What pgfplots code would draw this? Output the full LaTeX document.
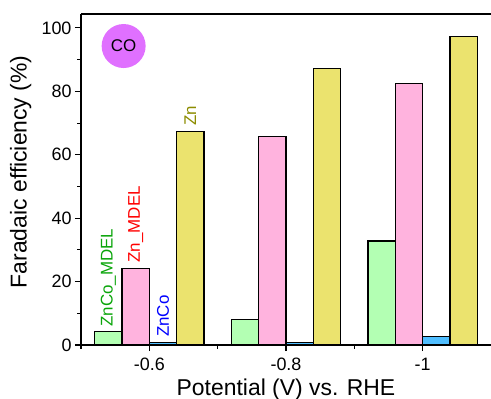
\documentclass[border=0pt]{standalone}
\usepackage{pgfplots}
\pgfplotsset{compat=1.18}
\usepackage{fontspec}
\setmainfont{Liberation Sans}
\definecolor{cGreen}{RGB}{179,255,179}
\definecolor{cPink}{RGB}{255,179,222}
\definecolor{cBlue}{RGB}{80,190,255}
\definecolor{cYellow}{RGB}{235,227,110}
\definecolor{tGreen}{RGB}{10,165,10}
\definecolor{tRed}{RGB}{255,0,0}
\definecolor{tBlue}{RGB}{0,0,255}
\definecolor{tOlive}{RGB}{140,140,0}
\definecolor{cCO}{RGB}{224,112,255}
\begin{document}
\begin{tikzpicture}
\useasboundingbox (-81bp,-54bp) rectangle (410bp,345bp);
\begin{axis}[
  scale only axis,
  width=410bp, height=331bp,
  xmin=-0.5, xmax=2.5, ymin=0, ymax=104.4,
  xtick={0,1,2}, xticklabels={-0.6,-0.8,-1},
  minor xtick={-0.5,0.5,1.5},
  ytick={0,20,40,60,80,100},
  minor y tick num=1,
  axis x line*=bottom, axis y line*=left,
  axis line style={line width=1.1bp, -},
  tick style={line width=1.1bp, black},
  tick align=outside,
  major tick length=6bp, minor tick length=3.5bp,
  /pgf/number format/assume math mode=true,
  every tick label/.append style={font=\fontsize{18}{20}\selectfont},
  xticklabel style={anchor=base, yshift=-19bp},
  label style={font=\fontsize{23}{26}\selectfont},
  xlabel={Potential (V) vs. RHE},
  ylabel={Faradaic efficiency (\%)},
  xlabel style={at={(axis description cs:0.5,0)}, anchor=base, yshift=-50bp},
  ylabel style={at={(axis description cs:-0.147,0.523)}, anchor=center},
  ybar, bar width=0.2,
  every axis plot/.append style={draw=black, line width=1.1bp},
  clip=false,
]
\addplot[fill=cGreen, bar shift=-0.3] coordinates {(0,4.4) (1,8.1) (2,32.8)};
\addplot[fill=cPink, bar shift=-0.1] coordinates {(0,24.0) (1,65.7) (2,82.6)};
\addplot[fill=cBlue, bar shift=0.1] coordinates {(0,0.9) (1,0.7) (2,2.8)};
\addplot[fill=cYellow, bar shift=0.3] coordinates {(0,67.3) (1,87.3) (2,97.3)};
\draw[line width=1.1bp] (rel axis cs:0,1) -- (rel axis cs:1,1);
\node[rotate=90, anchor=west, text=tGreen, font=\fontsize{17}{19}\selectfont, inner sep=0pt] at (axis cs:-0.3,5.7) {ZnCo\_MDEL};
\node[rotate=90, anchor=west, text=tRed, font=\fontsize{17}{19}\selectfont, inner sep=0pt] at (axis cs:-0.1,26.0) {Zn\_MDEL};
\node[rotate=90, anchor=west, text=tBlue, font=\fontsize{17}{19}\selectfont, inner sep=0pt] at (axis cs:0.1,2.5) {ZnCo};
\node[rotate=90, anchor=west, text=tOlive, font=\fontsize{17}{19}\selectfont, inner sep=0pt] at (axis cs:0.3,69.2) {Zn};
\node[circle, fill=cCO, minimum size=44bp, inner sep=0pt, font=\fontsize{17}{19}\selectfont] at (axis cs:-0.188,94.3) {CO};
\end{axis}
\end{tikzpicture}
\end{document}
